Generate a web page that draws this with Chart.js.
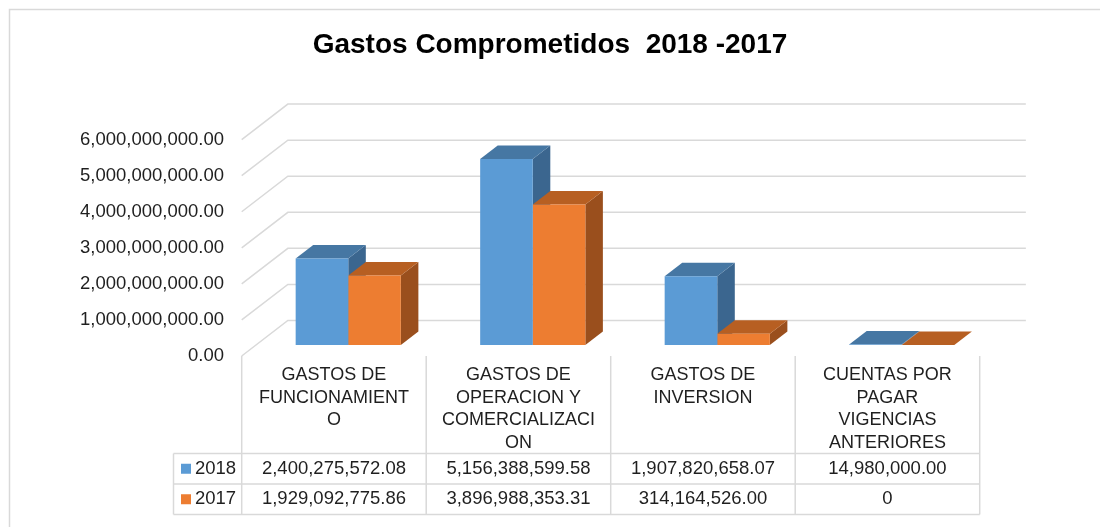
<!DOCTYPE html>
<html>
<head>
<meta charset="utf-8">
<title>Gastos Comprometidos 2018 - 2017</title>
<script src="https://cdn.jsdelivr.net/npm/chart.js@4.4.1/dist/chart.umd.min.js"></script>
<style>
  html, body { margin: 0; padding: 0; background: #ffffff; }
  #wrap { width: 1100px; height: 527px; }
</style>
</head>
<body>
<div id="wrap"><canvas id="chart" width="1100" height="527"></canvas></div>
<script>
// Categories (wrapped as they appear under the bars)
const categories = [
  ['GASTOS DE', 'FUNCIONAMIENT', 'O'],
  ['GASTOS DE', 'OPERACION Y', 'COMERCIALIZACI', 'ON'],
  ['GASTOS DE', 'INVERSION'],
  ['CUENTAS POR', 'PAGAR', 'VIGENCIAS', 'ANTERIORES']
];
const seriesNames = ['2018', '2017'];
const values2018 = [2400275572.08, 5156388599.58, 1907820658.07, 14980000.00];
const values2017 = [1929092775.86, 3896988353.31, 314164526.00, 0];
const yTicks = { min: 0, max: 6000000000, step: 1000000000 };

// Face colours: front / top / side
const faces = [
  { front: '#5B9BD5', top: '#4677A3', side: '#3B668F' },
  { front: '#ED7D31', top: '#B75F22', side: '#9A4F1D' }
];

const FONT = "'Liberation Sans', Arial, sans-serif";
const TEXT = '#1f1f1f';
const GRID = '#d9d9d9';

// 3D projection offsets (pixels in y; x follows the same slant)
const SLANT = 1.3;
const FRONT_DY = 11;     // front edge of the floor
const BAR_DEPTH = 13.5;  // depth of each bar
const WALL_DY = -24.5;   // back wall

function fmt(v) {
  if (v === 0) return '0';
  const neg = v < 0;
  const parts = Math.abs(v).toFixed(2).split('.');
  parts[0] = parts[0].replace(/\B(?=(\d{3})+(?!\d))/g, ',');
  return (neg ? '-' : '') + parts[0] + '.' + parts[1];
}

const threeD = {
  id: 'threeD',
  beforeDatasetsDraw(chart) {
    const ctx = chart.ctx;
    const ca = chart.chartArea;
    const y = chart.scales.y;
    // back wall gridlines and left wall diagonals
    ctx.save();
    ctx.strokeStyle = GRID;
    ctx.lineWidth = 1.5;
    y.ticks.forEach(t => {
      const py = y.getPixelForValue(t.value);
      const by = py + WALL_DY, bx = -WALL_DY * SLANT;
      const fy = py + FRONT_DY, fx = -FRONT_DY * SLANT;
      ctx.beginPath();
      ctx.moveTo(ca.left + fx, fy);
      ctx.lineTo(ca.left + bx, by);
      ctx.lineTo(ca.right + bx, by);
      ctx.stroke();
    });
    ctx.restore();

    // side and top faces of every bar, drawn left to right
    const dx = BAR_DEPTH * SLANT, dy = -BAR_DEPTH;
    const metas = chart.data.datasets.map((d, i) => chart.getDatasetMeta(i));
    const n = chart.data.labels.length;
    ctx.save();
    for (let c = 0; c < n; c++) {
      metas.forEach((meta, di) => {
        const el = meta.data[c];
        const p = el.getProps(['x', 'y', 'base', 'width'], true);
        const l = p.x - p.width / 2, r = p.x + p.width / 2;
        const top = Math.min(p.y, p.base), bot = Math.max(p.y, p.base);
        // side
        ctx.fillStyle = faces[di].side;
        ctx.beginPath();
        ctx.moveTo(r, bot);
        ctx.lineTo(r + dx, bot + dy);
        ctx.lineTo(r + dx, top + dy);
        ctx.lineTo(r, top);
        ctx.closePath();
        ctx.fill();
        // top
        ctx.fillStyle = faces[di].top;
        ctx.beginPath();
        ctx.moveTo(l, top);
        ctx.lineTo(r, top);
        ctx.lineTo(r + dx, top + dy);
        ctx.lineTo(l + dx, top + dy);
        ctx.closePath();
        ctx.fill();
      });
    }
    ctx.restore();
  },
  afterDraw(chart) {
    const ctx = chart.ctx;
    const ca = chart.chartArea;
    const x = chart.scales.x, y = chart.scales.y;
    const n = chart.data.labels.length;
    const fx = -FRONT_DY * SLANT;
    const colW = (ca.right - ca.left) / n;
    const floorY = y.getPixelForValue(0) + FRONT_DY;
    const rowTop = 453.5, rowH = 30.5;
    const legL = 173.5;
    const tableBottom = rowTop + rowH * chart.data.datasets.length;

    ctx.save();
    // outer frame
    ctx.strokeStyle = GRID;
    ctx.lineWidth = 1.5;
    ctx.strokeRect(9.5, 9.5, 1300, 700);

    // data table grid
    ctx.lineWidth = 1.5;
    for (let i = 0; i <= n; i++) {
      const cx = ca.left + fx + colW * i;
      ctx.beginPath();
      ctx.moveTo(cx, floorY);
      ctx.lineTo(cx, tableBottom);
      ctx.stroke();
    }
    ctx.beginPath();
    ctx.moveTo(legL, rowTop);
    ctx.lineTo(legL, tableBottom);
    ctx.stroke();
    for (let r = 0; r <= chart.data.datasets.length; r++) {
      const ry = rowTop + rowH * r;
      ctx.beginPath();
      ctx.moveTo(legL, ry);
      ctx.lineTo(ca.right + fx, ry);
      ctx.stroke();
    }

    // legend keys and values
    ctx.font = '18.5px ' + FONT;
    ctx.textBaseline = 'middle';
    chart.data.datasets.forEach((ds, r) => {
      const cy = rowTop + rowH * r + rowH / 2;
      ctx.fillStyle = ds.backgroundColor;
      ctx.fillRect(181, cy - 5, 10, 10);
      ctx.fillStyle = TEXT;
      ctx.textAlign = 'left';
      ctx.fillText(ds.label, 195, cy);
      ctx.textAlign = 'center';
      ds.data.forEach((v, c) => {
        ctx.fillText(fmt(v), x.getPixelForValue(c) + fx, cy);
      });
    });
    ctx.restore();
  }
};

new Chart(document.getElementById('chart'), {
  type: 'bar',
  data: {
    labels: categories,
    datasets: [
      { label: seriesNames[0], data: values2018, backgroundColor: faces[0].front },
      { label: seriesNames[1], data: values2017, backgroundColor: faces[1].front }
    ]
  },
  options: {
    responsive: false,
    animation: false,
    events: [],
    layout: { padding: 0 },
    datasets: { bar: { categoryPercentage: 0.57, barPercentage: 1, borderWidth: 0 } },
    plugins: {
      legend: { display: false },
      tooltip: { enabled: false },
      title: {
        display: true,
        text: 'Gastos Comprometidos  2018 -2017',
        color: '#000000',
        font: { family: FONT, size: 28, weight: 'bold', lineHeight: 1.2 },
        padding: { top: 28.5, bottom: 66.5 }
      }
    },
    scales: {
      x: {
        grid: { display: false, drawTicks: false },
        border: { display: false },
        ticks: {
          color: TEXT,
          font: { family: FONT, size: 18, lineHeight: '22.7px' },
          padding: 18.6,
          labelOffset: -FRONT_DY * SLANT,
          maxRotation: 0,
          minRotation: 0,
          autoSkip: false
        },
        afterFit(scale) { scale.height = 527 - 345; }
      },
      y: {
        min: yTicks.min,
        max: yTicks.max,
        grid: { display: false, drawTicks: false },
        border: { display: false },
        ticks: {
          stepSize: yTicks.step,
          color: TEXT,
          font: { family: FONT, size: 18.5 },
          padding: 32,
          labelOffset: FRONT_DY,
          callback: v => fmt(v) === '0' ? '0.00' : fmt(v)
        },
        afterFit(scale) { scale.width = 256; }
      },
      // empty right-hand margin axis reserving room for the back wall
      yRight: {
        position: 'right',
        display: true,
        grid: { display: false, drawTicks: false },
        border: { display: false },
        ticks: { display: false },
        afterFit(scale) { scale.width = 106; }
      }
    }
  },
  plugins: [threeD]
});
</script>
</body>
</html>
